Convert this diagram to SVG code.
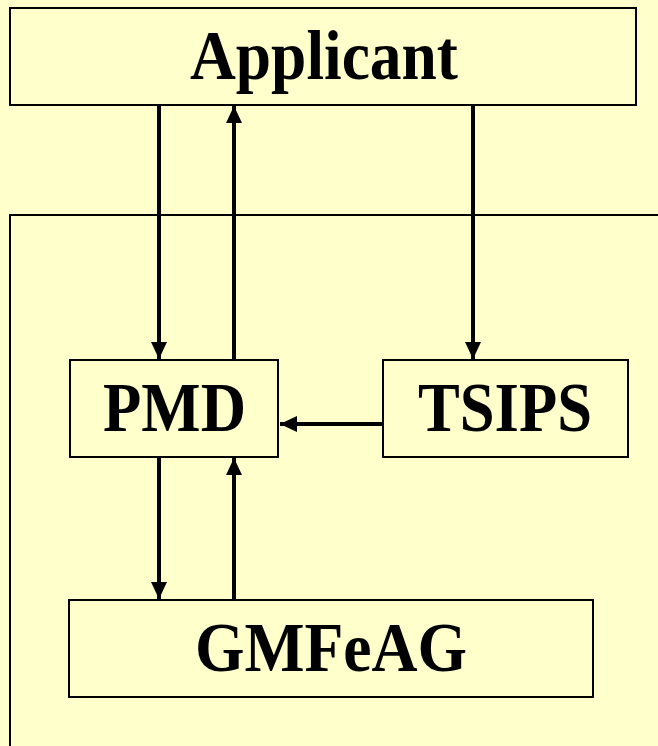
<svg xmlns="http://www.w3.org/2000/svg" width="658" height="746" viewBox="0 0 658 746">
<style>
.box{fill:#FFFFCC;stroke:#000;stroke-width:2}
.lbl{font-family:"Liberation Serif","Times New Roman",serif;font-weight:bold;font-size:69px;fill:#000;text-anchor:middle}
.conn{stroke:#000;stroke-width:4;fill:none;marker-end:url(#ah)}
</style>
<defs>
<marker id="ah" markerUnits="userSpaceOnUse" markerWidth="18" markerHeight="16" refX="17" refY="8" orient="auto" overflow="visible">
<path d="M0,0 L17,8 L0,16 Z" fill="#000"/>
</marker>
</defs>
<rect x="0" y="0" width="658" height="746" fill="#FFFFCC"/>
<g id="container"><rect class="box" x="10" y="215" width="660" height="560"/></g>
<g id="applicant"><rect class="box" x="10" y="8" width="626" height="97"/><text class="lbl" x="324" y="79" textLength="268" lengthAdjust="spacingAndGlyphs">Applicant</text></g>
<g id="pmd"><rect class="box" x="70" y="360" width="208" height="97"/><text class="lbl" x="174.5" y="431" textLength="143" lengthAdjust="spacingAndGlyphs">PMD</text></g>
<g id="tsips"><rect class="box" x="383" y="360" width="245" height="97"/><text class="lbl" x="505" y="431" textLength="174" lengthAdjust="spacingAndGlyphs">TSIPS</text></g>
<g id="gmfeag"><rect class="box" x="69" y="600" width="524" height="97"/><text class="lbl" x="331" y="671" textLength="272" lengthAdjust="spacingAndGlyphs">GMFeAG</text></g>
<g id="connectors">
<line class="conn" x1="159" y1="105" x2="159" y2="359"/>
<line class="conn" x1="234" y1="360" x2="234" y2="106"/>
<line class="conn" x1="473" y1="105" x2="473" y2="359"/>
<line class="conn" x1="383" y1="424" x2="280" y2="424"/>
<line class="conn" x1="159" y1="457" x2="159" y2="599"/>
<line class="conn" x1="234" y1="600" x2="234" y2="458"/>
</g>
</svg>
